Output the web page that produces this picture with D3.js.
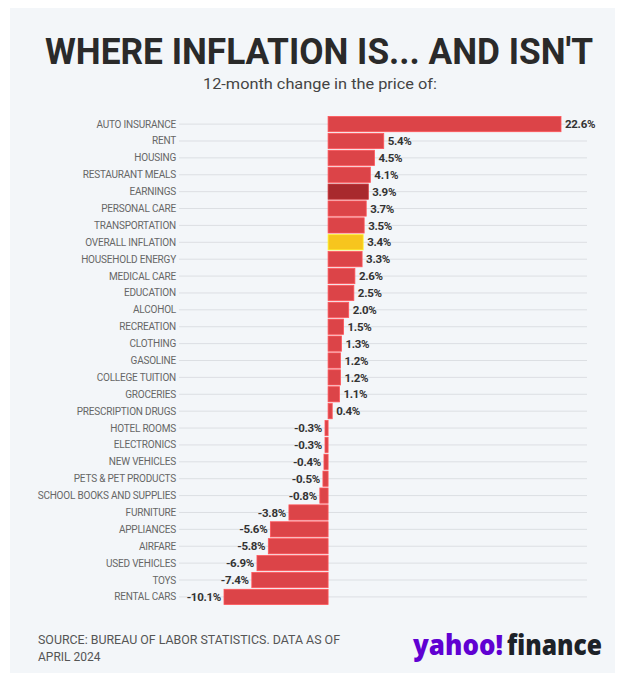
<!DOCTYPE html>
<html>
<head>
<meta charset="utf-8">
<script src="https://cdn.jsdelivr.net/npm/d3@7"></script>
<style>
  body { margin: 0; background: #fff; }
  svg { display: block; }
</style>
</head>
<body>
<svg id="chart" width="620" height="679"></svg>
<script>
// data
const categories = ['AUTO INSURANCE', 'RENT', 'HOUSING', 'RESTAURANT MEALS', 'EARNINGS',
  'PERSONAL CARE', 'TRANSPORTATION', 'OVERALL INFLATION', 'HOUSEHOLD ENERGY', 'MEDICAL CARE',
  'EDUCATION', 'ALCOHOL', 'RECREATION', 'CLOTHING', 'GASOLINE', 'COLLEGE TUITION', 'GROCERIES',
  'PRESCRIPTION DRUGS', 'HOTEL ROOMS', 'ELECTRONICS', 'NEW VEHICLES', 'PETS & PET PRODUCTS',
  'SCHOOL BOOKS AND SUPPLIES', 'FURNITURE', 'APPLIANCES', 'AIRFARE', 'USED VEHICLES', 'TOYS',
  'RENTAL CARS'];
const changes = [22.6, 5.4, 4.5, 4.1, 3.9, 3.7, 3.5, 3.4, 3.3, 2.6, 2.5, 2.0, 1.5, 1.3, 1.2, 1.2,
  1.1, 0.4, -0.3, -0.3, -0.4, -0.5, -0.8, -3.8, -5.6, -5.8, -6.9, -7.4, -10.1];
const highlights = { 'EARNINGS': '#a8292d', 'OVERALL INFLATION': '#f7c51e' };

const rows = categories.map((c, i) => ({ name: c, value: changes[i] }));

let svg = d3.select('#chart');

svg.append('rect')
  .attr('x', 10).attr('y', 8)
  .attr('width', 605).attr('height', 665)
  .attr('fill', '#f3f6f9');

svg.append('text')
  .attr('x', 45).attr('y', 64)
  .attr('textLength', 548)
  .attr('lengthAdjust', 'spacingAndGlyphs')
  .style('font-family', 'Roboto, sans-serif')
  .style('font-weight', 'bold')
  .style('font-size', '37px')
  .attr('fill', '#2a2a2a')
  .text("WHERE INFLATION IS... AND ISN'T");

svg.append('text')
  .attr('x', 203).attr('y', 89)
  .attr('textLength', 234)
  .attr('lengthAdjust', 'spacingAndGlyphs')
  .style('font-family', 'Roboto, sans-serif')
  .style('font-size', '15.5px')
  .attr('fill', '#444')
  .text('12-month change in the price of:');

let x = d3.scaleLinear().domain([-10.1, 22.6]).range([224, 561]);
let y = d3.scaleBand().domain(categories).range([116.5, 604.5]).paddingInner(0.1);

// grid lines
svg.append('g')
  .selectAll('line')
  .data(rows)
  .enter()
  .append('line')
  .attr('x1', 179).attr('x2', 587)
  .attr('y1', d => y(d.name) + y.bandwidth() / 2)
  .attr('y2', d => y(d.name) + y.bandwidth() / 2)
  .attr('stroke', '#dcdfe3')
  .attr('stroke-width', 1);

// category labels
svg.append('g')
  .selectAll('text')
  .data(rows)
  .enter()
  .append('text')
  .attr('x', 176)
  .attr('y', d => y(d.name) + y.bandwidth() / 2)
  .attr('dy', '0.35em')
  .attr('text-anchor', 'end')
  .style('font-family', 'Roboto, sans-serif')
  .style('font-size', '10px')
  .style('letter-spacing', '-0.2px')
  .attr('fill', '#666')
  .text(d => d.name);

// bars
svg.append('g')
  .selectAll('rect')
  .data(rows)
  .enter()
  .append('rect')
  .attr('x', d => Math.min(x(0), x(d.value)))
  .attr('y', d => y(d.name))
  .attr('width', d => Math.abs(x(d.value) - x(0)))
  .attr('height', y.bandwidth())
  .attr('fill', d => highlights[d.name] || '#dc4448')
  .attr('stroke', d => d3.color(highlights[d.name] || '#dc4448').brighter(0.6))
  .attr('stroke-width', 0.8);

// value labels
svg.append('g')
  .selectAll('text')
  .data(rows)
  .enter()
  .append('text')
  .attr('x', d => d.value >= 0 ? x(d.value) + 4 : x(d.value) - 3)
  .attr('y', d => y(d.name) + y.bandwidth() / 2)
  .attr('dy', '0.36em')
  .attr('text-anchor', d => d.value >= 0 ? 'start' : 'end')
  .style('font-family', 'Roboto, sans-serif')
  .style('font-weight', 'bold')
  .style('font-size', '11.5px')
  .style('letter-spacing', '-0.3px')
  .attr('fill', '#333')
  .text(d => d.value.toFixed(1) + '%');

// footer
let foot = svg.append('text')
  .style('font-family', 'Roboto, sans-serif')
  .style('font-size', '12px')
  .attr('fill', '#555');
foot.append('tspan').attr('x', 38).attr('y', 644)
  .attr('textLength', 302).attr('lengthAdjust', 'spacingAndGlyphs')
  .text('SOURCE: BUREAU OF LABOR STATISTICS. DATA AS OF');
foot.append('tspan').attr('x', 38).attr('y', 661).text('APRIL 2024');

// logo, in two parts
svg.append('text')
  .attr('x', 413).attr('y', 655)
  .attr('textLength', 90)
  .attr('lengthAdjust', 'spacingAndGlyphs')
  .style('font-family', '"Open Sans", Lato, sans-serif')
  .style('font-weight', '800')
  .style('font-size', '28px')
  .attr('fill', '#6001d2')
  .text('yahoo!');
svg.append('text')
  .attr('x', 507).attr('y', 655)
  .attr('textLength', 95)
  .attr('lengthAdjust', 'spacingAndGlyphs')
  .style('font-family', '"Open Sans", Lato, sans-serif')
  .style('font-weight', '800')
  .style('font-size', '28px')
  .attr('fill', '#1d2228')
  .text('finance');
</script>
</body>
</html>
